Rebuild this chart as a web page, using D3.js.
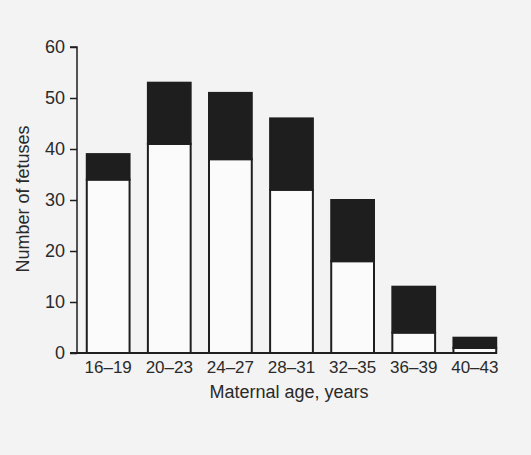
<!DOCTYPE html>
<html>
<head>
<meta charset="utf-8">
<script src="https://cdn.jsdelivr.net/npm/d3@7"></script>
<style>
  body { margin: 0; background: #f3f3f3; }
  svg { display: block; }
  text { font-family: "Liberation Sans", Arial, sans-serif; fill: #2a2a2a; }
</style>
</head>
<body>
<svg id="chart" width="531" height="455"></svg>
<script>
'use strict';

// age groups and counts
var ageGroups = ['16\u201319', '20\u201323', '24\u201327', '28\u201331', '32\u201335', '36\u201339', '40\u201343']
,   whiteCounts = [34, 41, 38, 32, 18, 4, 1]
,   blackCounts = [5, 12, 13, 14, 12, 9, 2]
,   yTicks = [0, 10, 20, 30, 40, 50, 60]

var svg = d3.select('#chart')
,   ink = '#1e1e1e'

var x = d3.scaleBand().domain(ageGroups).range([77, 506]).paddingInner(0.3).paddingOuter(0.16)
,   y = d3.scaleLinear().domain([0, 60]).range([353, 47])

var rows = ageGroups.map((g, i) => ({ group: g, white: whiteCounts[i], black: blackCounts[i] }))
var stacked = d3.stack().keys(['white', 'black'])(rows)

// bars
var layers = svg.append('g').attr('class', 'bars')
  .selectAll('g')
  .data(stacked)
  .enter().append('g')
    .attr('fill', (d) => d.key === 'white' ? '#fbfbfb' : ink)

layers.selectAll('rect')
  .data((d) => d)
  .enter().append('rect')
    .attr('x', (d) => x(d.data.group))
    .attr('y', (d) => y(d[1]))
    .attr('width', x.bandwidth())
    .attr('height', (d) => y(d[0]) - y(d[1]))
    .attr('stroke', ink)
    .attr('stroke-width', 2)

// y axis
var yAxis = svg.append('g')
  .attr('transform', 'translate(77,0)')
  .call(d3.axisLeft(y).tickValues(yTicks).tickSize(7).tickPadding(5))

yAxis.select('.domain').attr('stroke', ink).attr('stroke-width', 1.5).attr('d', 'M-7,' + y(60) + 'H0V' + y(0))
yAxis.selectAll('.tick line').attr('stroke', ink).attr('stroke-width', 1.5)
yAxis.selectAll('.tick text').style('font-size', '18px').attr('fill', '#2a2a2a')

// baseline
svg.append('line')
  .attr('x1', 70).attr('x2', 497)
  .attr('y1', y(0)).attr('y2', y(0))
  .attr('stroke', ink).attr('stroke-width', 2)

// x labels
var xAxis = svg.append('g')
  .attr('transform', 'translate(0,' + y(0) + ')')
  .call(d3.axisBottom(x).tickSize(0).tickPadding(8))

xAxis.select('.domain').remove()
xAxis.selectAll('.tick text').style('font-size', '17px').attr('fill', '#2a2a2a')

svg.append('text')
  .attr('x', 289).attr('y', 398)
  .attr('text-anchor', 'middle')
  .style('font-size', '18px')
  .text('Maternal age, years')

svg.append('text')
  .attr('transform', 'translate(29,199) rotate(-90)')
  .attr('text-anchor', 'middle')
  .style('font-size', '18px')
  .text('Number of fetuses')
</script>
</body>
</html>
